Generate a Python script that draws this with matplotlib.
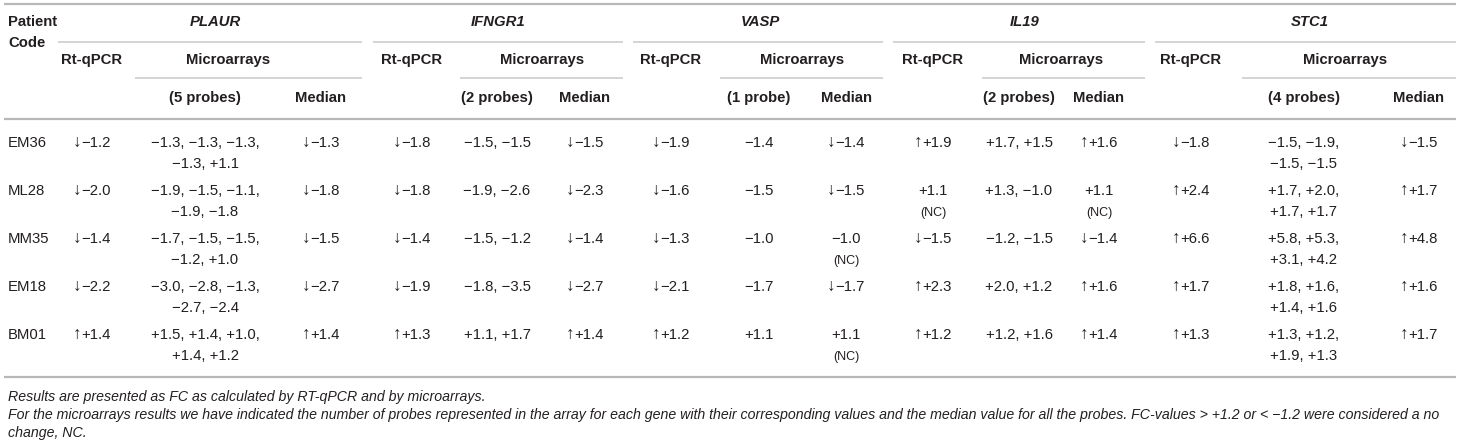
import matplotlib
matplotlib.use("Agg")
import matplotlib.pyplot as plt

# ---------------- data ----------------
patients = ["EM36", "ML28", "MM35", "EM18", "BM01"]
genes = ["PLAUR", "IFNGR1", "VASP", "IL19", "STC1"]
probe_labels = ["(5 probes)", "(2 probes)", "(1 probe)", "(2 probes)", "(4 probes)"]

PLAUR_rt = ["↓−1.2", "↓−2.0", "↓−1.4", "↓−2.2", "↑+1.4"]
PLAUR_probes = ["−1.3, −1.3, −1.3,\n−1.3, +1.1", "−1.9, −1.5, −1.1,\n−1.9, −1.8",
                "−1.7, −1.5, −1.5,\n−1.2, +1.0", "−3.0, −2.8, −1.3,\n−2.7, −2.4",
                "+1.5, +1.4, +1.0,\n+1.4, +1.2"]
PLAUR_median = ["↓−1.3", "↓−1.8", "↓−1.5", "↓−2.7", "↑+1.4"]

IFNGR1_rt = ["↓−1.8", "↓−1.8", "↓−1.4", "↓−1.9", "↑+1.3"]
IFNGR1_probes = ["−1.5, −1.5", "−1.9, −2.6", "−1.5, −1.2", "−1.8, −3.5", "+1.1, +1.7"]
IFNGR1_median = ["↓−1.5", "↓−2.3", "↓−1.4", "↓−2.7", "↑+1.4"]

VASP_rt = ["↓−1.9", "↓−1.6", "↓−1.3", "↓−2.1", "↑+1.2"]
VASP_probes = ["−1.4", "−1.5", "−1.0", "−1.7", "+1.1"]
VASP_median = ["↓−1.4", "↓−1.5", "−1.0\n(NC)", "↓−1.7", "+1.1\n(NC)"]

IL19_rt = ["↑+1.9", "+1.1\n(NC)", "↓−1.5", "↑+2.3", "↑+1.2"]
IL19_probes = ["+1.7, +1.5", "+1.3, −1.0", "−1.2, −1.5", "+2.0, +1.2", "+1.2, +1.6"]
IL19_median = ["↑+1.6", "+1.1\n(NC)", "↓−1.4", "↑+1.6", "↑+1.4"]

STC1_rt = ["↓−1.8", "↑+2.4", "↑+6.6", "↑+1.7", "↑+1.3"]
STC1_probes = ["−1.5, −1.9,\n−1.5, −1.5", "+1.7, +2.0,\n+1.7, +1.7", "+5.8, +5.3,\n+3.1, +4.2",
               "+1.8, +1.6,\n+1.4, +1.6", "+1.3, +1.2,\n+1.9, +1.3"]
STC1_median = ["↓−1.5", "↑+1.7", "↑+4.8", "↑+1.6", "↑+1.7"]

footnotes = [
    "Results are presented as FC as calculated by RT-qPCR and by microarrays.",
    "For the microarrays results we have indicated the number of probes represented in the array for each gene with their "
    "corresponding values and the median value for all the probes. FC-values > +1.2 or < −1.2 were considered a no",
    "change, NC.",
]

# ---------------- layout ----------------
W, H = 1460, 444
fig = plt.figure(figsize=(W / 100, H / 100), dpi=100)
ax = fig.add_axes([0, 0, 1, 1])
ax.set_xlim(0, W)
ax.set_ylim(H, 0)
ax.axis("off")
renderer = fig.canvas.get_renderer()

FAM = ["Liberation Sans", "DejaVu Sans"]
TXT = "#231f20"
FS = 10.7
FS_ARROW = 12.3
FS_NC = 9.0
FS_FOOT = 10.2
BASE = 5  # baseline offset from row centre (px)

# per gene: rt center, probes center, median center, gene label x, microarrays label x,
#           gene line x0, micro line x0, line x1
cols = [
    (92, 205, 321, 215, 228, 58, 135, 362),
    (412, 497, 585, 498, 542, 373, 460, 623),
    (671, 759, 846, 760, 802, 633, 720, 883),
    (933, 1019, 1099, 1025, 1061, 893, 982, 1145),
    (1191, 1304, 1419, 1310, 1345, 1155, 1242, 1456),
]

# header text
ax.text(8, 22, "Patient", family=FAM, fontsize=FS, weight="bold", color=TXT, ha="left", va="center")
ax.text(8, 43, "Code", family=FAM, fontsize=FS, weight="bold", color=TXT, ha="left", va="center")

for gene, plab, c in zip(genes, probe_labels, cols):
    rt, pc, mc, gl, ml, gx0, mx0, x1 = c
    ax.text(gl, 22, gene, family=FAM, fontsize=FS, weight="bold", style="italic",
            color=TXT, ha="center", va="center")
    ax.plot([gx0, x1], [42, 42], color="#c9c9c9", lw=1.1, solid_capstyle="butt")
    ax.text(rt, 60, "Rt-qPCR", family=FAM, fontsize=FS, weight="bold", color=TXT, ha="center", va="center")
    ax.text(ml, 60, "Microarrays", family=FAM, fontsize=FS, weight="bold", color=TXT,
            ha="center", va="center")
    ax.plot([mx0, x1], [78, 78], color="#c9c9c9", lw=1.1, solid_capstyle="butt")
    ax.text(pc, 98, plab, family=FAM, fontsize=FS, weight="bold", color=TXT, ha="center", va="center")
    ax.text(mc, 98, "Median", family=FAM, fontsize=FS, weight="bold", color=TXT, ha="center", va="center")

# main rules
for y in (4, 119, 377):
    ax.plot([4, 1456], [y, y], color="#b8b8b8", lw=1.6, solid_capstyle="butt")

# body
row_y = [142, 190, 238, 286, 334]
LINE = 21

def line_text(x, y, s, fs):
    if s and s[0] in "↑↓":
        a = ax.text(0, y + BASE, s[0], family=FAM, fontsize=FS_ARROW, color=TXT, ha="left", va="baseline")
        r = ax.text(0, y + BASE, s[1:], family=FAM, fontsize=fs, color=TXT, ha="left", va="baseline")
        wa = a.get_window_extent(renderer).width
        wr = r.get_window_extent(renderer).width
        x0 = x - (wa + wr) / 2
        a.set_x(x0)
        r.set_x(x0 + wa)
    else:
        ax.text(x, y + BASE, s, family=FAM, fontsize=fs, color=TXT, ha="center", va="baseline")

def cell(x, y, s):
    for k, part in enumerate(s.split("\n")):
        fs = FS_NC if part == "(NC)" else FS
        line_text(x, y + k * LINE, part, fs)

gene_data = [
    (PLAUR_rt, PLAUR_probes, PLAUR_median),
    (IFNGR1_rt, IFNGR1_probes, IFNGR1_median),
    (VASP_rt, VASP_probes, VASP_median),
    (IL19_rt, IL19_probes, IL19_median),
    (STC1_rt, STC1_probes, STC1_median),
]

for i, (p, y) in enumerate(zip(patients, row_y)):
    ax.text(8, y + BASE, p, family=FAM, fontsize=FS, color=TXT, ha="left", va="baseline")
    for (rt_v, pr_v, md_v), c in zip(gene_data, cols):
        cell(c[0], y, rt_v[i])
        cell(c[1], y, pr_v[i])
        cell(c[2], y, md_v[i])

# footnotes
for k, f in enumerate(footnotes):
    ax.text(8, 397 + k * 18, f, family=FAM, fontsize=FS_FOOT, style="italic", color=TXT, ha="left", va="center")

fig.savefig("out.png", dpi=100, facecolor="white")
